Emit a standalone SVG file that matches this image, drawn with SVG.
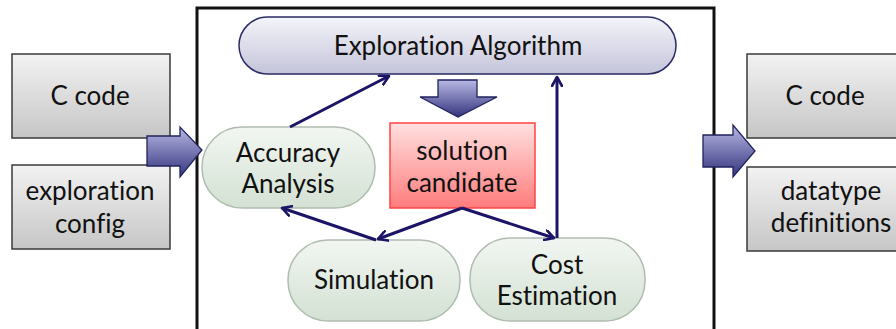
<svg xmlns="http://www.w3.org/2000/svg" width="896" height="329" viewBox="0 0 896 329">
<defs>
<linearGradient id="gGray" x1="0" y1="0" x2="0" y2="1"><stop offset="0" stop-color="#f2f2f2"/><stop offset="1" stop-color="#c6c6c6"/></linearGradient>
<linearGradient id="gLav" x1="0" y1="0" x2="0" y2="1"><stop offset="0" stop-color="#f4f4fa"/><stop offset="1" stop-color="#c4c4da"/></linearGradient>
<linearGradient id="gGreen" x1="0" y1="0" x2="0" y2="1"><stop offset="0" stop-color="#f2f6f2"/><stop offset="1" stop-color="#d3e1d3"/></linearGradient>
<linearGradient id="gRed" x1="0" y1="0" x2="0" y2="1"><stop offset="0" stop-color="#ffe0e0"/><stop offset="1" stop-color="#ff7c7c"/></linearGradient>
<linearGradient id="gBlueV" x1="0" y1="0" x2="0" y2="1"><stop offset="0" stop-color="#b8b8e4"/><stop offset="1" stop-color="#34347e"/></linearGradient>
<marker id="ah" viewBox="0 0 12 12" refX="10" refY="6" markerWidth="12" markerHeight="12" markerUnits="userSpaceOnUse" orient="auto">
<path d="M1,1 L10,6 L1,11" fill="none" stroke="#1c1466" stroke-width="2.6" stroke-linecap="round" stroke-linejoin="round"/>
</marker>
</defs>
<style>
text{font-family:"Lato","Open Sans","DejaVu Sans",sans-serif;font-size:26px;fill:#111;text-anchor:middle;font-variant-ligatures:none}
.gray{fill:url(#gGray);stroke:#3a3a3a;stroke-width:1.5}
.green{fill:url(#gGreen);stroke:#b0bcb0;stroke-width:1.5}
.blk{fill:url(#gBlueV);stroke:#22225e;stroke-width:1.3}
.conn{fill:none;stroke:#1c1466;stroke-width:3;marker-end:url(#ah)}
</style>
<rect width="896" height="329" fill="#ffffff"/>
<rect id="frame" x="197" y="8" width="517" height="330" fill="none" stroke="#111" stroke-width="3"/>

<g id="in-ccode"><rect class="gray" x="12" y="54" width="158" height="84"/><text x="90" y="105">C code</text></g>
<g id="in-config"><rect class="gray" x="12" y="165" width="158" height="84"/><text x="90" y="200">exploration</text><text x="90" y="233">config</text></g>
<g id="out-ccode"><rect class="gray" x="747" y="54" width="168" height="84"/><text x="825" y="105">C code</text></g>
<g id="out-types"><rect class="gray" x="747" y="167" width="168" height="84"/><text x="831" y="200">datatype</text><text x="831" y="232">definitions</text></g>

<g id="exploration"><rect x="239" y="17" width="437" height="57" rx="28.5" fill="url(#gLav)" stroke="#2a2a66" stroke-width="1.5"/><text x="458" y="55">Exploration Algorithm</text></g>
<g id="accuracy"><rect class="green" x="202" y="127" width="173" height="81" rx="40"/><text x="288" y="162">Accuracy</text><text x="288" y="193">Analysis</text></g>
<g id="solution"><rect x="390" y="123" width="145" height="85" fill="url(#gRed)" stroke="#ff4444" stroke-width="1.5"/><text x="462" y="160">solution</text><text x="462" y="192">candidate</text></g>
<g id="simulation"><rect class="green" x="288" y="240" width="172" height="81" rx="40"/><text x="374" y="289">Simulation</text></g>
<g id="cost"><rect class="green" x="470" y="238" width="175" height="83" rx="40"/><text x="557" y="274">Cost</text><text x="557" y="305">Estimation</text></g>

<g id="block-arrows">
<path class="blk" d="M147,136 L180,136 L180,127 L202,150 L180,177 L180,166 L147,166 Z"/>
<path class="blk" d="M703,135 L733,135 L733,125 L755,151 L733,177 L733,167 L703,167 Z"/>
<path class="blk" d="M438,80 L477,80 L477,97 L497,97 L458,117 L420,97 L438,97 Z"/>
</g>

<g id="connectors">
<path class="conn" d="M290,127 L389,76"/>
<path class="conn" d="M462,208 L378,239"/>
<path class="conn" d="M376,240 L282,208"/>
<path class="conn" d="M462,208 L554,238"/>
<path class="conn" d="M557,238 L557,77"/>
</g>
</svg>
